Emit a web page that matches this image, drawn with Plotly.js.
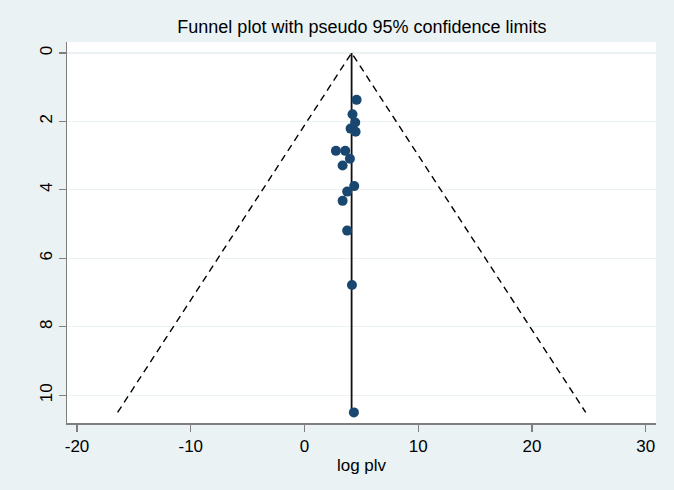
<!DOCTYPE html>
<html>
<head>
<meta charset="utf-8">
<script src="https://cdn.plot.ly/plotly-3.0.1.min.js"></script>
<style>
  body { margin: 0; background: #eaf2f3; }
  #chart { width: 674px; height: 490px; }
</style>
</head>
<body>
<div id="chart"></div>
<script>
// study estimates (log plv) and their standard errors
const logPlv = [4.58, 4.22, 4.46, 4.05, 4.49, 2.76, 3.58, 3.99, 3.35, 4.37, 3.75, 3.35, 3.75, 4.17, 4.34];
const stdErr = [1.37, 1.79, 2.03, 2.21, 2.30, 2.86, 2.86, 3.09, 3.29, 3.89, 4.05, 4.32, 5.19, 6.78, 10.50];

// pooled estimate line
const pooledX = [4.14, 4.14];
const pooledY = [0, 10.5];

// pseudo 95% confidence limits
const limitX = [-16.43, 4.14, 24.72];
const limitY = [10.5, 0, 10.5];

const xTicks = [-20, -10, 0, 10, 20, 30];
const yTicks = [0, 2, 4, 6, 8, 10];

const navy = '#1a476f';
const gridCol = '#eaf2f3';
const axisCol = '#7f7f7f';

Plotly.newPlot('chart', [{
    x: limitX,
    y: limitY,
    type: 'scatter',
    mode: 'lines',
    line: {color: '#000000', width: 1.4, dash: '7px,5px'},
    hoverinfo: 'skip'
}, {
    x: pooledX,
    y: pooledY,
    type: 'scatter',
    mode: 'lines',
    line: {color: '#111111', width: 1.8}
}, {
    x: logPlv,
    y: stdErr,
    type: 'scatter',
    mode: 'markers',
    marker: {color: navy, size: 10}
}], {
    width: 674,
    height: 490,
    showlegend: false,
    paper_bgcolor: '#eaf2f3',
    plot_bgcolor: '#ffffff',
    margin: {l: 67, r: 18, t: 42, b: 67},
    font: {family: 'Arial, "Liberation Sans", sans-serif', color: '#000000', size: 17},
    title: {
        text: 'Funnel plot with pseudo 95% confidence limits',
        font: {size: 18},
        x: 0.537,
        xanchor: 'center',
        y: 0.945,
        yanchor: 'middle'
    },
    xaxis: {
        range: [-20.88, 30.9],
        tickvals: xTicks,
        ticktext: xTicks.map(String),
        showgrid: false,
        zeroline: false,
        showline: true,
        linecolor: axisCol,
        linewidth: 1.5,
        ticks: 'outside',
        ticklen: 7,
        tickcolor: axisCol,
        tickwidth: 1.2,
        tickfont: {size: 17},
        title: {text: 'log plv', font: {size: 17}, standoff: 4}
    },
    yaxis: {
        range: [10.81, -0.32],
        tickvals: yTicks,
        ticktext: yTicks.map(String),
        tickangle: -90,
        showgrid: true,
        gridcolor: gridCol,
        gridwidth: 1.2,
        zeroline: false,
        showline: true,
        linecolor: axisCol,
        linewidth: 1.5,
        ticks: 'outside',
        ticklen: 7,
        tickcolor: axisCol,
        tickwidth: 1.2,
        tickfont: {size: 17}
    }
}, {displayModeBar: false, staticPlot: true});
</script>
</body>
</html>
